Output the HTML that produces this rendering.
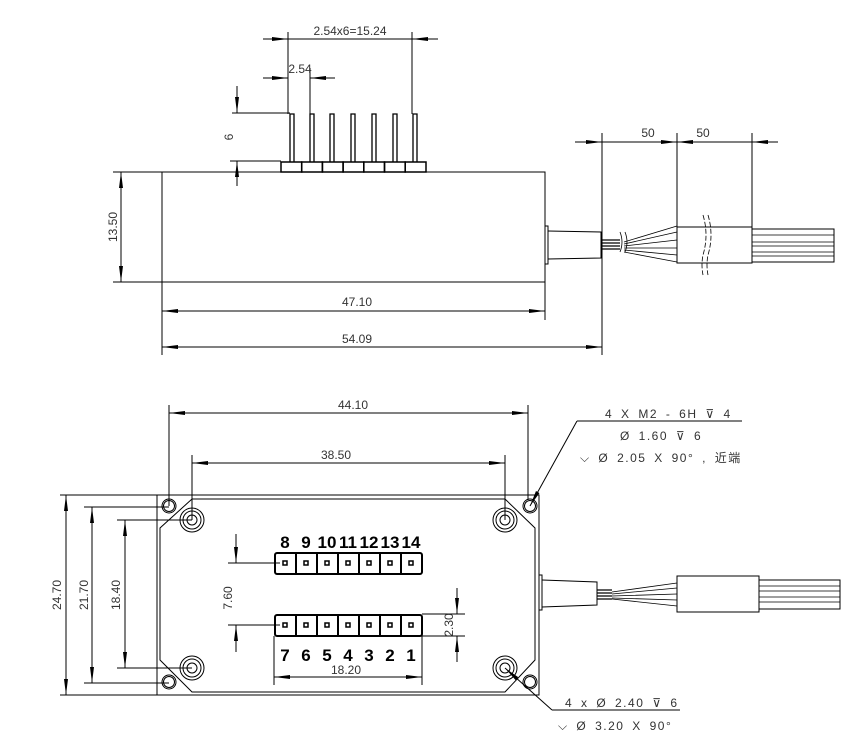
<!DOCTYPE html>
<html><head><meta charset="utf-8"><style>
html,body{margin:0;padding:0;background:#fff;}
svg{display:block}
text{font-family:"Liberation Sans","Noto Sans CJK SC",sans-serif;fill:#333;font-size:12px;}
.b{font-weight:bold;fill:#000;font-size:17px;}
.l{letter-spacing:1.5px;word-spacing:3px;}
</style></head><body>
<svg width="852" height="744" viewBox="0 0 852 744" xmlns="http://www.w3.org/2000/svg">
<defs>
<marker id="a" viewBox="0 0 16 4" refX="16" refY="2" markerWidth="16" markerHeight="4.5" markerUnits="userSpaceOnUse" orient="auto-start-reverse"><path d="M0,0 L16,2 L0,4 z" fill="#000"/></marker>
</defs>
<g stroke="#000" stroke-width="1" fill="none">
<!-- TOP VIEW -->
<rect x="162" y="172" width="383" height="110"/>
<g stroke-width="1.5">
<rect x="281" y="162" width="20.7" height="10"/><rect x="301.7" y="162" width="20.7" height="10"/><rect x="322.4" y="162" width="20.7" height="10"/><rect x="343.1" y="162" width="20.7" height="10"/><rect x="363.8" y="162" width="20.7" height="10"/><rect x="384.5" y="162" width="20.7" height="10"/><rect x="405.2" y="162" width="20.8" height="10"/>
</g>
<g stroke-width="1.3">
<path d="M290,162V114h4V162M310,162V114h4V162M330,162V114h4V162M351,162V114h4V162M372,162V114h4V162M393,162V114h4V162M413,162V114h4V162"/>
</g>
<line x1="263" y1="39" x2="288" y2="39" marker-end="url(#a)"/>
<line x1="288" y1="39" x2="412" y2="39"/>
<line x1="438" y1="39" x2="412" y2="39" marker-end="url(#a)"/>
<line x1="288" y1="32" x2="288" y2="114"/><line x1="412" y1="32" x2="412" y2="114"/>
<line x1="263" y1="78" x2="288" y2="78" marker-end="url(#a)"/>
<line x1="335" y1="78" x2="310" y2="78" marker-end="url(#a)"/>
<line x1="310" y1="68" x2="310" y2="114"/>
<line x1="232" y1="113" x2="290" y2="113"/><line x1="230" y1="161" x2="281" y2="161"/>
<line x1="237" y1="86" x2="237" y2="113" marker-end="url(#a)"/>
<line x1="237" y1="186" x2="237" y2="161" marker-end="url(#a)"/>
<line x1="113" y1="172" x2="162" y2="172"/><line x1="113" y1="282" x2="162" y2="282"/>
<line x1="121" y1="227" x2="121" y2="172" marker-end="url(#a)"/>
<line x1="121" y1="227" x2="121" y2="282" marker-end="url(#a)"/>
<line x1="162" y1="282" x2="162" y2="355"/><line x1="545" y1="282" x2="545" y2="320"/>
<line x1="350" y1="311" x2="162" y2="311" marker-end="url(#a)"/>
<line x1="350" y1="311" x2="545" y2="311" marker-end="url(#a)"/>
<line x1="380" y1="347" x2="162" y2="347" marker-end="url(#a)"/>
<line x1="380" y1="347" x2="602" y2="347" marker-end="url(#a)"/>
<path d="M545,226 h3 v38 h-3"/>
<path d="M548,231 L601,232 V258 L548,259"/>
<path d="M601,240 H620 M601,243 H620 M601,246 H620 M601,249 H620" stroke-width="1.2"/>
<path d="M624,242 L677,226 M624,244 L677,232 M624,246 L677,240 M624,248 L677,248 M624,250 L677,255 M624,252 L677,262" stroke-width="0.8"/>
<path d="M620,232 q4,10 0,20 M625,232 q4,10 0,20" stroke-width="0.8"/>
<rect x="677" y="227" width="75" height="36"/>
<path d="M703,215 q6,20 0,40 q-2,10 0,20 M708,215 q6,20 0,40 q-2,10 0,20" stroke-width="0.8" stroke-dasharray="5,2"/>
<rect x="752" y="229" width="82" height="33"/>
<path d="M752,235 H834 M752,242 H834 M752,246 H834 M752,252 H834 M752,256 H834" stroke-width="0.8"/>
<line x1="602" y1="133" x2="602" y2="355"/><line x1="677" y1="133" x2="677" y2="227"/><line x1="752" y1="133" x2="752" y2="227"/>
<line x1="575" y1="142" x2="602" y2="142" marker-end="url(#a)"/>
<line x1="602" y1="142" x2="677" y2="142"/>
<line x1="660" y1="142" x2="677" y2="142" marker-end="url(#a)"/>
<line x1="694" y1="142" x2="677" y2="142" marker-end="url(#a)"/>
<line x1="677" y1="142" x2="752" y2="142"/>
<line x1="778" y1="142" x2="752" y2="142" marker-end="url(#a)"/>

<!-- BOTTOM VIEW -->
<rect x="157" y="495" width="382" height="200"/>
<path d="M192,499 H505 L535,528 V660 L505,692 H192 L160,660 V528 Z"/>
<g>
<circle cx="192" cy="520" r="12"/><circle cx="192" cy="520" r="9"/><circle cx="192" cy="520" r="5"/>
<circle cx="505" cy="520" r="12"/><circle cx="505" cy="520" r="9"/><circle cx="505" cy="520" r="5"/>
<circle cx="192" cy="668" r="12"/><circle cx="192" cy="668" r="9"/><circle cx="192" cy="668" r="5"/>
<circle cx="505" cy="668" r="12"/><circle cx="505" cy="668" r="9"/><circle cx="505" cy="668" r="5"/>
<circle cx="169" cy="506" r="7"/><circle cx="169" cy="506" r="5.5"/>
<circle cx="530" cy="506" r="7"/><circle cx="530" cy="506" r="5.5"/>
<circle cx="169" cy="682" r="7"/><circle cx="169" cy="682" r="5.5"/>
<circle cx="530" cy="682" r="7"/><circle cx="530" cy="682" r="5.5"/>
</g>
<g stroke-width="2">
<rect x="275" y="553" width="147" height="21" rx="2"/>
<path d="M296,553v21M317,553v21M338,553v21M359,553v21M380,553v21M401,553v21"/>
<rect x="275" y="615" width="147" height="21" rx="2"/>
<path d="M296,615v21M317,615v21M338,615v21M359,615v21M380,615v21M401,615v21"/>
</g>
<g stroke-width="1.5">
<rect x="283" y="561" width="4" height="4"/><rect x="304" y="561" width="4" height="4"/><rect x="325" y="561" width="4" height="4"/><rect x="346" y="561" width="4" height="4"/><rect x="367" y="561" width="4" height="4"/><rect x="388" y="561" width="4" height="4"/><rect x="409" y="561" width="4" height="4"/>
<rect x="283" y="623" width="4" height="4"/><rect x="304" y="623" width="4" height="4"/><rect x="325" y="623" width="4" height="4"/><rect x="346" y="623" width="4" height="4"/><rect x="367" y="623" width="4" height="4"/><rect x="388" y="623" width="4" height="4"/><rect x="409" y="623" width="4" height="4"/>
</g>
<line x1="169" y1="405" x2="169" y2="506"/><line x1="528" y1="405" x2="528" y2="500"/>
<line x1="350" y1="413" x2="169" y2="413" marker-end="url(#a)"/>
<line x1="350" y1="413" x2="528" y2="413" marker-end="url(#a)"/>
<line x1="192" y1="455" x2="192" y2="520"/><line x1="505" y1="455" x2="505" y2="520"/>
<line x1="350" y1="463" x2="192" y2="463" marker-end="url(#a)"/>
<line x1="350" y1="463" x2="505" y2="463" marker-end="url(#a)"/>
<line x1="60" y1="495" x2="157" y2="495"/><line x1="60" y1="695" x2="157" y2="695"/>
<line x1="66" y1="595" x2="66" y2="495" marker-end="url(#a)"/>
<line x1="66" y1="595" x2="66" y2="695" marker-end="url(#a)"/>
<line x1="84" y1="507" x2="169" y2="507"/><line x1="84" y1="683" x2="169" y2="683"/>
<line x1="92" y1="595" x2="92" y2="507" marker-end="url(#a)"/>
<line x1="92" y1="595" x2="92" y2="683" marker-end="url(#a)"/>
<line x1="117" y1="520" x2="192" y2="520"/><line x1="117" y1="668" x2="192" y2="668"/>
<line x1="125" y1="595" x2="125" y2="520" marker-end="url(#a)"/>
<line x1="125" y1="595" x2="125" y2="668" marker-end="url(#a)"/>
<line x1="228" y1="563" x2="280" y2="563"/><line x1="228" y1="625" x2="280" y2="625"/>
<line x1="236" y1="534" x2="236" y2="563" marker-end="url(#a)"/>
<line x1="236" y1="652" x2="236" y2="625" marker-end="url(#a)"/>
<line x1="422" y1="614" x2="465" y2="614"/><line x1="422" y1="636" x2="465" y2="636"/>
<line x1="457" y1="588" x2="457" y2="614" marker-end="url(#a)"/>
<line x1="457" y1="662" x2="457" y2="636" marker-end="url(#a)"/>
<line x1="274" y1="636" x2="274" y2="685"/><line x1="422" y1="636" x2="422" y2="685"/>
<line x1="350" y1="677" x2="274" y2="677" marker-end="url(#a)"/>
<line x1="350" y1="677" x2="422" y2="677" marker-end="url(#a)"/>
<path d="M539,575 h3 v35 h-3"/>
<path d="M542,580 L597,582 V605 L542,607"/>
<path d="M597,590 H612 M597,593 H612 M597,596 H612 M597,599 H612" stroke-width="1.2"/>
<path d="M612,592 L677,583 M612,594 L677,588 M612,596 L677,594 M612,598 L677,600 M612,599 L677,606" stroke-width="0.8"/>
<rect x="677" y="576" width="82" height="36"/>
<rect x="759" y="580" width="81" height="29"/>
<path d="M759,586 H840 M759,591 H840 M759,597 H840 M759,602 H840" stroke-width="0.8"/>
<line x1="577" y1="421" x2="530" y2="506" marker-end="url(#a)"/>
<line x1="577" y1="421" x2="742" y2="421"/>
<line x1="552" y1="710" x2="505" y2="668" marker-end="url(#a)"/>
<line x1="552" y1="710" x2="680" y2="710"/>
</g>
<text x="350" y="35" text-anchor="middle">2.54x6=15.24</text>
<text x="300" y="73" text-anchor="middle">2.54</text>
<text transform="translate(233,137) rotate(-90)" text-anchor="middle">6</text>
<text transform="translate(117,227) rotate(-90)" text-anchor="middle">13.50</text>
<text x="357" y="306" text-anchor="middle">47.10</text>
<text x="357" y="343" text-anchor="middle">54.09</text>
<text x="648" y="137" text-anchor="middle">50</text>
<text x="703" y="137" text-anchor="middle">50</text>
<text x="353" y="409" text-anchor="middle">44.10</text>
<text x="336" y="459" text-anchor="middle">38.50</text>
<text transform="translate(61,595) rotate(-90)" text-anchor="middle">24.70</text>
<text transform="translate(88,595) rotate(-90)" text-anchor="middle">21.70</text>
<text transform="translate(120,595) rotate(-90)" text-anchor="middle">18.40</text>
<text transform="translate(232,598) rotate(-90)" text-anchor="middle">7.60</text>
<text transform="translate(453,625) rotate(-90)" text-anchor="middle">2.30</text>
<text x="346" y="674" text-anchor="middle">18.20</text>
<g text-anchor="middle">
<text class="b" x="285" y="548">8</text><text class="b" x="306" y="548">9</text><text class="b" x="327" y="548">10</text><text class="b" x="348" y="548">11</text><text class="b" x="369" y="548">12</text><text class="b" x="390" y="548">13</text><text class="b" x="411" y="548">14</text>
<text class="b" x="285" y="661">7</text><text class="b" x="306" y="661">6</text><text class="b" x="327" y="661">5</text><text class="b" x="348" y="661">4</text><text class="b" x="369" y="661">3</text><text class="b" x="390" y="661">2</text><text class="b" x="411" y="661">1</text>
</g>
<text class="l" x="605" y="418">4 X  M2 - 6H ⊽ 4</text>
<text class="l" x="620" y="440">Ø 1.60 ⊽ 6</text>
<text class="l" x="580" y="462">⌵ Ø 2.05 X 90° , 近端</text>
<text class="l" x="565" y="707">4 x Ø 2.40 ⊽ 6</text>
<text class="l" x="558" y="730">⌵ Ø 3.20 X 90°</text>
</svg>
</body></html>
